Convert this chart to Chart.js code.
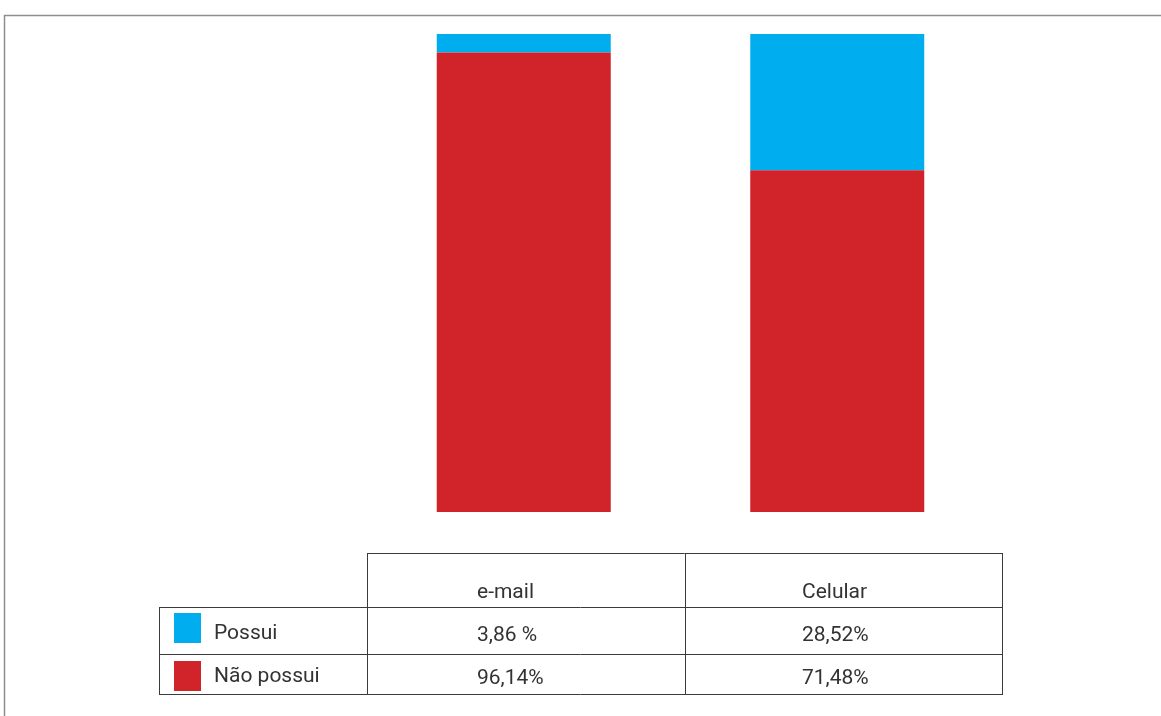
<!DOCTYPE html>
<html>
<head>
<meta charset="utf-8">
<script src="https://cdn.jsdelivr.net/npm/chart.js@4"></script>
<style>
  html,body{margin:0;padding:0;background:#fff}
  #wrap{width:1161px;height:716px;position:relative}
</style>
</head>
<body>
<div id="wrap"><canvas id="myChart" width="1161" height="716"></canvas></div>
<script>
var categorias=["e-mail","Celular"]
var possui=[3.86,28.52]
var naoPossui=[96.14,71.48]
var possuiTexto=["3,86 %","28,52%"]
var naoPossuiTexto=["96,14%","71,48%"]
var series=["Possui","Não possui"]

var azul="#00aeef"
var vermelho="#d1232a"

// tabela de dados embaixo das barras
var tabela={
    id:"tabela",
    afterDraw:function(chart){
        var ctx=chart.ctx
        var colunas=[367,685,1002]
        var textoX=[477,802]
        var legEsq=159
        var y0=553, y1=607, y2=654, y3=694

        ctx.save()
        // moldura externa
        ctx.strokeStyle="#8e8e8e"
        ctx.lineWidth=1.5
        ctx.beginPath()
        ctx.moveTo(4.5,720)
        ctx.lineTo(4.5,15.5)
        ctx.lineTo(1170,15.5)
        ctx.stroke()

        ctx.strokeStyle="#3a3a3a"
        ctx.lineWidth=1
        ctx.beginPath()
        ctx.moveTo(colunas[0],y0+0.5); ctx.lineTo(colunas[2],y0+0.5)
        ;[y1,y2,y3].forEach(function(y){
            ctx.moveTo(legEsq,y+0.5); ctx.lineTo(colunas[2],y+0.5)
        })
        colunas.forEach(function(px){
            ctx.moveTo(px+0.5,y0); ctx.lineTo(px+0.5,y3+1)
        })
        ctx.moveTo(legEsq+0.5,y1); ctx.lineTo(legEsq+0.5,y3+1)
        ctx.stroke()

        ctx.fillStyle="#333"
        ctx.font="21px Roboto"
        ctx.textAlign="left"
        ctx.textBaseline="alphabetic"
        categorias.forEach(function(c,i){
            ctx.fillText(c,textoX[i],598)
            ctx.fillText(possuiTexto[i],textoX[i],641)
            ctx.fillText(naoPossuiTexto[i],textoX[i],684)
        })

        // legenda dentro da tabela
        ctx.fillStyle=azul
        ctx.fillRect(174,613,27,30)
        ctx.fillStyle=vermelho
        ctx.fillRect(174,661,27,30)
        ctx.fillStyle="#333"
        ctx.fillText(series[0],214,639)
        ctx.fillText(series[1],214,682)
        ctx.restore()
    }
}

var chart=new Chart(document.getElementById("myChart").getContext("2d"),{
    type:"bar",
    data:{
        labels:categorias,
        datasets:[
            {
                label:series[1],
                data:naoPossui,
                backgroundColor:vermelho,
                barPercentage:0.555,
                categoryPercentage:1
            },
            {
                label:series[0],
                data:possui,
                backgroundColor:azul,
                barPercentage:0.555,
                categoryPercentage:1
            }
        ]
    },
    options:{
        responsive:false,
        animation:false,
        layout:{padding:{left:367,right:167,top:34,bottom:204}},
        plugins:{legend:{display:false},tooltip:{enabled:false}},
        scales:{
            x:{stacked:true,display:false},
            y:{stacked:true,display:false,min:0,max:100}
        }
    },
    plugins:[tabela]
})
</script>
</body>
</html>
